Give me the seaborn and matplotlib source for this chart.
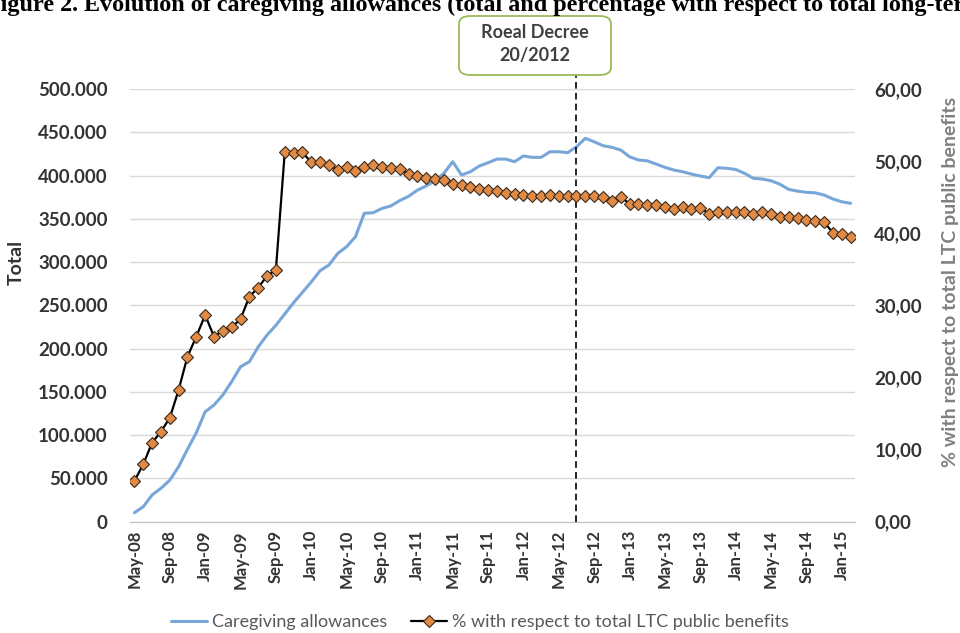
import pandas as pd
import numpy as np
import matplotlib.pyplot as plt
import seaborn as sns
from matplotlib.patches import FancyBboxPatch
from matplotlib.lines import Line2D
from matplotlib.ticker import FuncFormatter

# monthly series, May-08 .. Feb-15
months = pd.date_range('2008-05-01', periods=82, freq='MS')

allowances = [10400, 17300, 30900, 38600, 48000, 63600, 83700, 102800, 127000, 134800,
              146400, 161800, 179000, 184900, 202000, 215700, 227000, 240000, 253000, 265000,
              277000, 290000, 296600, 310000, 317800, 329300, 356400, 357000, 362000, 364800,
              371000, 376000, 383000, 388000, 394000, 402600, 416000, 400600, 404400, 411000,
              414800, 419000, 419000, 416000, 422600, 421000, 421000, 427500, 427500, 426400,
              433300, 443000, 439000, 434500, 432600, 429500, 421700, 418000, 417000, 413300,
              409500, 406400, 404400, 401700, 399500, 397500, 409000, 408400, 407000, 402600,
              396800, 396000, 394000, 390000, 384000, 382000, 380600, 380000, 377500, 372900,
              369700, 367900]

pct_ltc = [5.65, 7.96, 10.96, 12.48, 14.4, 18.27, 22.9, 25.66, 28.67, 25.66,
           26.5, 26.96, 28.1, 31.2, 32.46, 34.08, 34.9, 51.2, 51.1, 51.2,
           49.85, 49.85, 49.4, 48.8, 49.2, 48.6, 49.25, 49.45, 49.2, 49.0,
           48.85, 48.25, 47.95, 47.7, 47.5, 47.35, 46.85, 46.75, 46.45, 46.1,
           46.0, 45.9, 45.6, 45.4, 45.3, 45.2, 45.2, 45.3, 45.2, 45.1,
           45.2, 45.1, 45.1, 45.0, 44.5, 45.0, 44.1, 44.1, 43.9, 43.9,
           43.7, 43.3, 43.6, 43.3, 43.5, 42.7, 43.0, 43.0, 42.9, 42.9,
           42.7, 42.9, 42.7, 42.3, 42.3, 42.1, 41.9, 41.75, 41.5, 40.1,
           39.9, 39.5]

tick_labels = ['May-08', 'Sep-08', 'Jan-09', 'May-09', 'Sep-09', 'Jan-10', 'May-10',
               'Sep-10', 'Jan-11', 'May-11', 'Sep-11', 'Jan-12', 'May-12', 'Sep-12',
               'Jan-13', 'May-13', 'Sep-13', 'Jan-14', 'May-14', 'Sep-14', 'Jan-15']

decree_idx = 50  # Jul-12

df = pd.DataFrame({'idx': np.arange(len(months)), 'Month': months,
                   'Caregiving allowances': allowances, 'pct': pct_ltc})

sns.set_style('white')
plt.rcParams['font.family'] = ['Lato', 'DejaVu Sans']

blue = '#78a6d9'
orange = '#e08a45'
txt = '#333333'

fig = plt.figure(figsize=(9.6, 6.33), dpi=100)
ax = fig.add_axes([130 / 960, 1 - 521.7 / 633, 725 / 960, (521.7 - 89) / 633])
ax2 = ax.twinx()

sns.lineplot(data=df, x='idx', y='Caregiving allowances', ax=ax, color=blue, lw=2.2)
sns.lineplot(data=df, x='idx', y='pct', ax=ax2, color='black', lw=1.6,
             marker='D', markersize=6.5, markerfacecolor=orange,
             markeredgecolor='#3a2a1a', markeredgewidth=0.8)

ax.set_xlim(-0.5, len(months) - 0.5)
ax.set_ylim(0, 500000)
ax2.set_ylim(0, 60)
ax.set_yticks(np.arange(0, 500001, 50000))
ax2.set_yticks(np.arange(0, 61, 10))
ax.yaxis.set_major_formatter(FuncFormatter(lambda v, p: f'{int(v):,}'.replace(',', '.')))
ax2.yaxis.set_major_formatter(FuncFormatter(lambda v, p: f'{v:.2f}'.replace('.', ',')))

ax.set_xticks(np.arange(0, len(months), 4))
ax.set_xticklabels(tick_labels, rotation=90, fontsize=12, fontweight='bold', color=txt)
ax.set_xticks(np.arange(-0.5, len(months), 4), minor=True)
ax.tick_params(axis='x', which='major', length=0, pad=6)
ax.tick_params(axis='x', which='minor', length=5, color='#bfbfbf', width=1)
ax.tick_params(axis='y', length=0, pad=16, labelsize=13.5, labelcolor=txt)
ax2.tick_params(axis='y', length=0, pad=14, labelsize=13.5, labelcolor=txt)
for lab in ax.get_yticklabels() + ax2.get_yticklabels():
    lab.set_fontweight('bold')

ax.grid(axis='y', color='#d9d9d9', lw=1)
ax.set_axisbelow(True)
for a in (ax, ax2):
    for s in a.spines.values():
        s.set_visible(False)
ax.spines['bottom'].set_visible(True)
ax.spines['bottom'].set_color('#bfbfbf')

ax.set_xlabel('')
ax.set_ylabel('Total', fontsize=14, fontweight='bold', color=txt)
ax2.set_ylabel('% with respect to total LTC public benefits', fontsize=14,
               fontweight='bold', color='#808080')
ax.yaxis.set_label_coords(-0.145, 0.6)
ax2.yaxis.set_label_coords(1.12, 0.555)

# Royal decree marker
ax.plot([decree_idx, decree_idx], [0, 516000], ls='--', dashes=(4, 2.5),
        color='black', lw=1.2, clip_on=False, zorder=5)
box = FancyBboxPatch((459 / 960, 1 - 75 / 633), 152 / 960, 59 / 633,
                     boxstyle='round,pad=0,rounding_size=0.012', transform=fig.transFigure,
                     fc='white', ec='#9bbb59', lw=1.3)
fig.patches.append(box)
fig.text(535 / 960, 1 - 44 / 633, 'Roeal Decree\n20/2012', ha='center', va='center',
         fontsize=13, fontweight='bold', color='#404040', linespacing=1.45)

fig.text(-0.015, 1 - 11 / 633,
         'Figure 2. Evolution of caregiving allowances (total and percentage with respect to total long-term care public benefits)',
         ha='left', va='baseline', fontsize=17.4, fontweight='bold',
         family=['Liberation Serif', 'DejaVu Serif'], color='black')

handles = [Line2D([], [], color=blue, lw=2.2),
           Line2D([], [], color='black', lw=1.6, marker='D', markersize=6.5,
                  markerfacecolor=orange, markeredgecolor='#3a2a1a', markeredgewidth=0.8)]
leg = fig.legend(handles, ['Caregiving allowances', '% with respect to total LTC public benefits'],
                 loc='center', bbox_to_anchor=(0.5, 1 - 622 / 633), ncol=2, frameon=False,
                 fontsize=13, handlelength=2.0, columnspacing=1.3, handletextpad=0.3)
for t in leg.get_texts():
    t.set_color('#595959')

fig.savefig('out.png', dpi=100)
